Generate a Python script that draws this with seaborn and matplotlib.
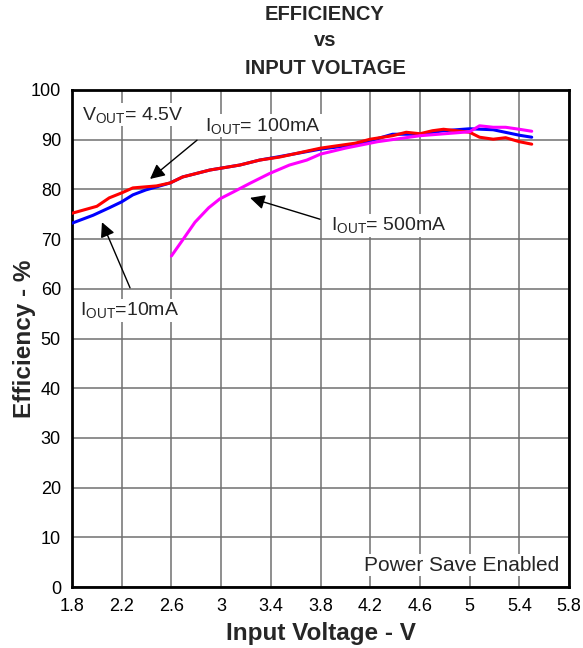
import numpy as np
import pandas as pd
import matplotlib
matplotlib.use("Agg")
import matplotlib.pyplot as plt
import seaborn as sns

# ---- data ----
v_10mA = [1.8, 1.97, 2.1, 2.2, 2.29, 2.395, 2.48, 2.59, 2.69, 2.91, 3.15, 3.31, 3.47, 3.8, 4.08, 4.2,
          4.38, 4.6, 4.79, 5.0, 5.19, 5.4, 5.5]
eff_10mA = [73.2, 74.8, 76.3, 77.5, 78.9, 79.9, 80.5, 81.3, 82.5, 83.9, 84.9, 85.9, 86.6, 88.1, 89.0, 89.8,
            91.1, 91.1, 91.8, 92.2, 92.0, 90.9, 90.5]

v_100mA = [1.8, 2.0, 2.1, 2.2, 2.29, 2.48, 2.59, 2.69, 2.91, 3.15, 3.31, 3.47, 3.8, 4.08, 4.2,
           4.38, 4.49, 4.6, 4.7, 4.79, 5.0, 5.08, 5.19, 5.29, 5.4, 5.5]
eff_100mA = [75.2, 76.6, 78.3, 79.3, 80.3, 80.7, 81.3, 82.5, 83.9, 84.9, 85.9, 86.5, 88.3, 89.3, 90.1,
             90.8, 91.5, 91.2, 91.8, 92.1, 91.5, 90.5, 90.1, 90.4, 89.6, 89.1]

v_500mA = [2.6, 2.69, 2.79, 2.9, 2.99, 3.1, 3.23, 3.39, 3.55, 3.69, 3.8, 4.0, 4.2, 4.26, 4.6, 5.0,
           5.08, 5.19, 5.29, 5.4, 5.5]
eff_500mA = [66.6, 69.8, 73.4, 76.3, 78.1, 79.5, 81.2, 83.2, 84.9, 85.9, 87.1, 88.3, 89.3, 89.6, 90.8, 91.6,
             92.8, 92.5, 92.5, 92.1, 91.7]

series_names = ["10mA", "100mA", "500mA"]
series_colors = ["#0000ff", "#ff0000", "#ff00ff"]

x_ticks = [1.8, 2.2, 2.6, 3.0, 3.4, 3.8, 4.2, 4.6, 5.0, 5.4, 5.8]
x_tick_labels = ["1.8", "2.2", "2.6", "3", "3.4", "3.8", "4.2", "4.6", "5", "5.4", "5.8"]
y_ticks = list(range(0, 101, 10))

df = pd.concat([
    pd.DataFrame({"V": v_10mA, "Eff": eff_10mA, "Iout": "10mA"}),
    pd.DataFrame({"V": v_100mA, "Eff": eff_100mA, "Iout": "100mA"}),
    pd.DataFrame({"V": v_500mA, "Eff": eff_500mA, "Iout": "500mA"}),
], ignore_index=True)

sns.set_theme(style="white")
plt.rcParams["font.family"] = ["Liberation Sans", "DejaVu Sans"]
plt.rcParams["mathtext.fontset"] = "custom"
plt.rcParams["mathtext.rm"] = "Liberation Sans"
plt.rcParams["mathtext.it"] = "Liberation Sans"

fig = plt.figure(figsize=(5.83, 6.48), dpi=100)
ax = fig.add_axes([72 / 583, 1 - 587 / 648, (569 - 72) / 583, (587 - 90) / 648])

sns.lineplot(data=df, x="V", y="Eff", hue="Iout", hue_order=series_names,
             palette=dict(zip(series_names, series_colors)), sort=False,
             linewidth=2.2, legend=False, ax=ax, zorder=3)

ax.set_xlim(1.8, 5.8)
ax.set_ylim(0, 100)
ax.set_xticks(x_ticks)
ax.set_xticklabels(x_tick_labels)
ax.set_yticks(y_ticks)
ax.tick_params(axis="x", length=0, labelsize=13, colors="black", pad=8)
ax.tick_params(axis="y", length=0, labelsize=13, colors="black", pad=8)
ax.grid(True, color="#707070", linewidth=1.1)
ax.set_axisbelow(True)
for s in ax.spines.values():
    s.set_visible(True)
    s.set_color("black")
    s.set_linewidth(2)

ax.set_xlabel("Input Voltage - V", fontsize=17.5, fontweight="bold", labelpad=5)
ax.set_ylabel("Efficiency - %", fontsize=17.5, fontweight="bold")
ax.yaxis.set_label_coords(-0.072, 0.5)

# title
for txt, yp in [("EFFICIENCY", 15), ("vs", 41), ("INPUT VOLTAGE", 68)]:
    fig.text(325 / 583, 1 - yp / 648, txt, ha="center", va="center",
             fontsize=14.5, fontweight="bold")

bbox = dict(facecolor="white", edgecolor="none", pad=1)
fs = 14
ax.text(1.88, 95.0, r"V$_{\mathrm{OUT}}$= 4.5V", fontsize=fs, va="center", ha="left", bbox=bbox, zorder=4)
ax.text(2.87, 92.8, r"I$_{\mathrm{OUT}}$= 100mA", fontsize=fs, va="center", ha="left", bbox=bbox, zorder=4)
ax.text(1.864, 55.7, r"I$_{\mathrm{OUT}}$=10mA", fontsize=fs, va="center", ha="left", bbox=bbox, zorder=4)
ax.text(3.885, 72.8, r"I$_{\mathrm{OUT}}$= 500mA", fontsize=fs, va="center", ha="left", bbox=bbox, zorder=4)
ax.text(5.72, 4.4, "Power Save Enabled", fontsize=15, va="center", ha="right", bbox=bbox, zorder=4)

arrow = dict(arrowstyle="-|>", color="black", lw=1.0, mutation_scale=22, shrinkA=0, shrinkB=0)
ax.annotate("", xy=(2.428, 82.1), xytext=(2.806, 89.9), arrowprops=arrow, zorder=4)
ax.annotate("", xy=(2.041, 73.4), xytext=(2.267, 60.2), arrowprops=arrow, zorder=4)
ax.annotate("", xy=(3.233, 78.3), xytext=(3.796, 74.0), arrowprops=arrow, zorder=4)

fig.savefig("out.png", dpi=100, facecolor="white")
